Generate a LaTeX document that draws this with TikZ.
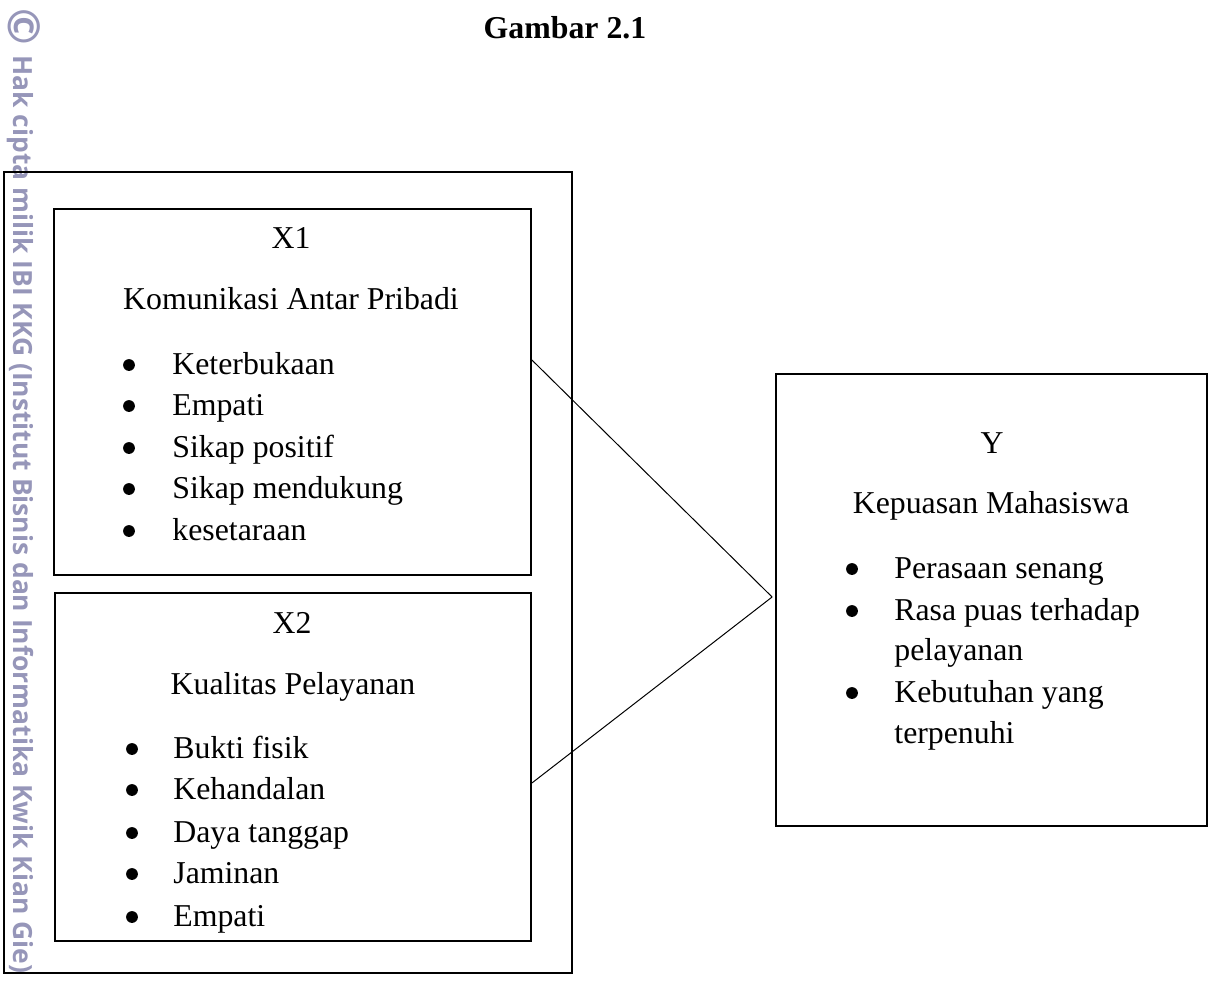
\documentclass[tikz,border=0pt]{standalone}
\usepackage{fontspec}
\setmainfont{Liberation Serif}
\newfontfamily\wmfont{Open Sans}
\usetikzlibrary{fit}
\newcommand\mainsz{\fontsize{15.9pt}{20.75pt}\selectfont}
\definecolor{wmcol}{RGB}{150,150,185}
\begin{document}
\begin{tikzpicture}[x=0.5pt,y=-0.5pt,
  box/.style={draw, line width=0.9pt, inner sep=0pt},
  lbl/.style={anchor=base, inner sep=0pt, font=\mainsz},
  item/.style={anchor=base west, inner sep=0pt, font=\mainsz},
  bul/.style={circle, fill=black, inner sep=0pt, minimum size=5.9pt},
  link/.style={line width=0.5pt}]
\useasboundingbox (0,0) rectangle (1215,985);
% watermark
\node[rotate=-90, inner sep=0pt, text=wmcol,
      font=\wmfont\bfseries\fontsize{22pt}{22pt}\selectfont] (wmc) at (24,27) {©};
\node[rotate=-90, anchor=base west, inner sep=0pt, text=wmcol,
      font=\wmfont\bfseries\fontsize{13.2pt}{14pt}\selectfont] (wm) at (13,55)
  {Hak cipta milik IBI KKG (Institut Bisnis dan Informatika Kwik Kian Gie)};
% title
\node[anchor=base, inner sep=0pt, font=\bfseries\mainsz] (title) at (565,39) {Gambar 2.1};
% boxes
\node[box, fit={(4,172) (572,973)}] (outer) {};
\node[box, fit={(54,209) (531,575)}] (x1) {};
\node[box, fit={(55,593) (531,941)}] (x2) {};
\node[box, fit={(776,374) (1207,826)}] (y) {};
% X1 texts
\node[lbl] (x1t) at (291,248) {X1};
\node[lbl] (x1n) at (291,309) {Komunikasi Antar Pribadi};
\foreach \t/\yy [count=\i] in {Keterbukaan/374, Empati/415, Sikap positif/457, Sikap mendukung/498, kesetaraan/540}{
  \node[bul] (x1b\i) at (129,\yy-9) {};
  \node[item] (x1i\i) at (172,\yy) {\t};
}
% X2 texts
\node[lbl] (x2t) at (292,633) {X2};
\node[lbl] (x2n) at (293,694) {Kualitas Pelayanan};
\foreach \t/\yy [count=\i] in {Bukti fisik/758, Kehandalan/799, Daya tanggap/842, Jaminan/883, Empati/926}{
  \node[bul] (x2b\i) at (132,\yy-9) {};
  \node[item] (x2i\i) at (173,\yy) {\t};
}
% Y texts
\node[lbl] (yt) at (992,453) {Y};
\node[lbl] (yn) at (991,513) {Kepuasan Mahasiswa};
\node[bul] (yb1) at (852,569) {};
\node[item] (yi1) at (894,578) {Perasaan senang};
\node[bul] (yb2) at (852,611) {};
\node[item] (yi2) at (894,620) {Rasa puas terhadap};
\node[item] (yi2b) at (894,660) {pelayanan};
\node[bul] (yb3) at (852,693) {};
\node[item] (yi3) at (894,702) {Kebutuhan yang};
\node[item] (yi3b) at (894,743) {terpenuhi};
% connectors
\coordinate (m) at ([xshift=-1.5pt,yshift=1.5pt]y.west);
\draw[link] ([yshift=16pt]x1.east) -- (m);
\draw[link] ([yshift=-8pt]x2.east) -- (m);
\end{tikzpicture}
\end{document}
